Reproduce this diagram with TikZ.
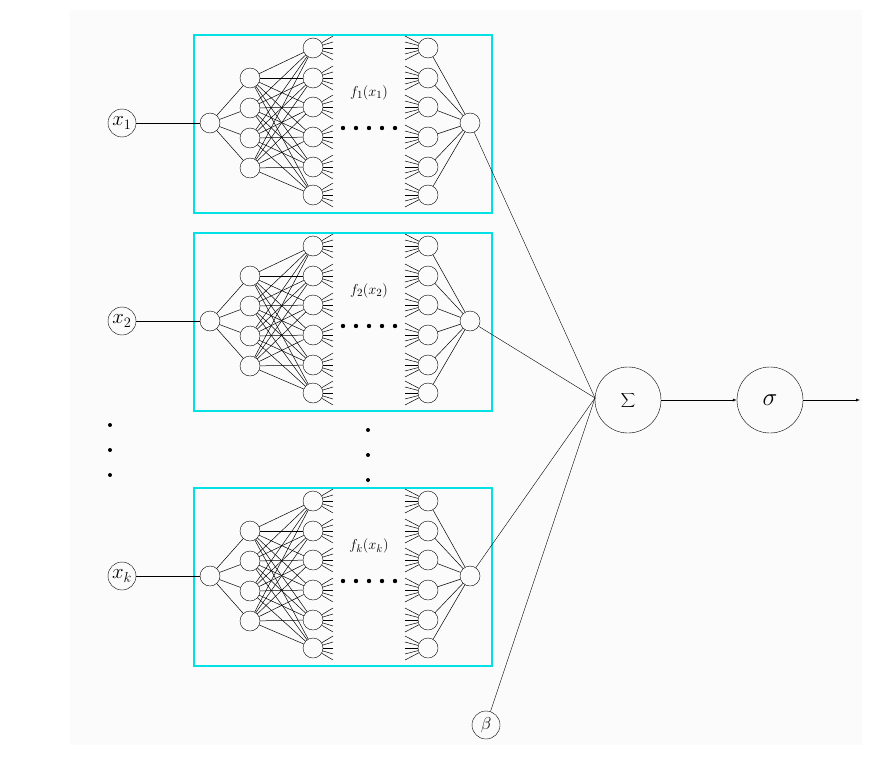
\documentclass[tikz,border=0pt]{standalone}
\begin{document}
\begin{tikzpicture}[x=1pt,y=-1pt,
  n/.style={circle,draw,minimum size=20pt,inner sep=0pt},
  inp/.style={circle,draw,minimum size=28pt,inner sep=0pt,font=\fontsize{22}{22}\selectfont},
  big/.style={circle,draw,minimum size=66pt,inner sep=0pt},
  box/.style={draw={rgb,255:red,0;green,225;blue,230},line width=1.8pt},
  e/.style={line width=0.5pt}]
\useasboundingbox (0,0) rectangle (880,757);
\fill[black!1.5] (70,10) rectangle (862,745);
\foreach \k/\oy/\lab in {1/0/{f_1(x_1)},2/198/{f_2(x_2)},3/453/{f_k(x_k)}}{
  \begin{scope}[yshift=-\oy pt]
  \draw[box] (194,35) rectangle (492,213);
  \node[n] (i\k) at (210,123) {};
  \foreach \j/\yy in {1/78,2/108,3/138,4/168}{\node[n] (a\k\j) at (250,\yy) {}; \draw[e] (i\k) -- (a\k\j);}
  \foreach \j/\yy in {1/48,2/78,3/107,4/137,5/167,6/195}{
    \node[n] (b\k\j) at (313,\yy) {};
    \node[n] (c\k\j) at (428,\yy) {};
    \foreach \t in {-12,-6,0,6,12}{\draw[e] (b\k\j) -- (333,\yy+\t); \draw[e] (c\k\j) -- (405,\yy+\t);}
  }
  \foreach \p in {1,...,4}{\foreach \q in {1,...,6}{\draw[e] (a\k\p) -- (b\k\q);}}
  \node[n] (o\k) at (470,123) {};
  \foreach \q in {1,...,6}{\draw[e] (c\k\q) -- (o\k);}
  \node[font=\fontsize{15}{15}\selectfont] at (369,93) {$\lab$};
  \foreach \xx in {343,356,369,382,395}{\fill (\xx,128) circle (2.2pt);}
  \end{scope}
}
\node[inp] (x1) at (122,123) {$x_1$};
\node[inp] (x2) at (122,321) {$x_2$};
\node[inp] (x3) at (122,576) {$x_k$};
\foreach \k in {1,2,3}{\draw (x\k) -- (i\k);}
\node[big] (S) at (628,400) {\fontsize{40}{40}\selectfont$\displaystyle\sum$};
\node[big] (G) at (770,400) {\fontsize{48}{48}\selectfont$\sigma$};
\node[inp,font=\fontsize{18}{18}\selectfont] (B) at (486,725) {$\beta$};
\coordinate (T) at (595,398);
\foreach \k in {1,2,3}{\draw (o\k) -- (T);}
\draw (B) -- (T);
\draw[-latex] (S) -- (G);
\coordinate (E) at (860,400);
\draw[-latex] (G) -- (E);
\foreach \yy in {425,450,475}{\fill (110,\yy) circle (2pt); \fill (368,\yy+5) circle (2pt);}
\end{tikzpicture}
\end{document}
